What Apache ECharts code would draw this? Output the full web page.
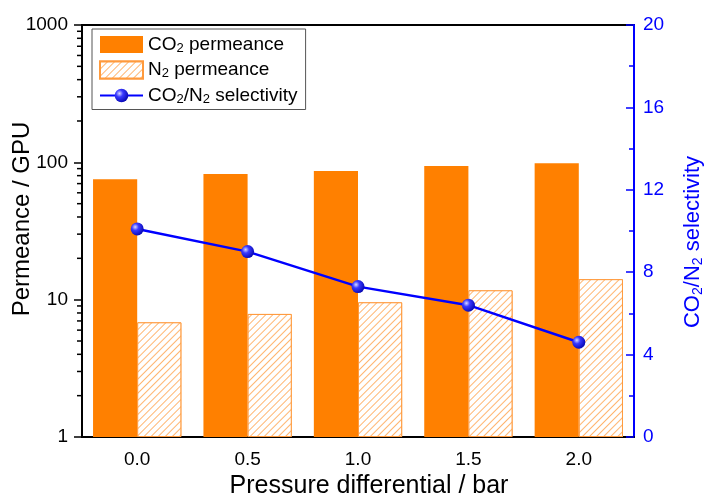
<!DOCTYPE html>
<html>
<head>
<meta charset="UTF-8">
<title>Permeance vs pressure differential</title>
<script src="https://cdn.jsdelivr.net/npm/echarts@6/dist/echarts.min.js"></script>
<style>
	html, body { margin: 0; padding: 0; background: #fff; }
	#main { width: 707px; height: 504px; }
</style>
</head>
<body>
<div id="main"></div>
<script>
// data
var categories = ['0.0', '0.5', '1.0', '1.5', '2.0'];
var co2Permeance = [75.3, 82.3, 86.6, 94.1, 98.5];
var n2Permeance = [6.84, 7.87, 9.57, 11.7, 14.1];
var selectivity = [10.1, 9.0, 7.3, 6.4, 4.6];
var logMinorTicks = [2, 3, 4, 5, 6, 7, 8, 9, 20, 30, 40, 50, 60, 70, 80, 90, 200, 300, 400, 500, 600, 700, 800, 900];

var FONT = 'Arial, "Liberation Sans", sans-serif';
var ORANGE = '#FF8000';
var BLUE = '#0000FF';

var legendText = {
	'CO2 permeance': '{n|CO}{s|2}{n| permeance}',
	'N2 permeance': '{n|N}{s|2}{n| permeance}',
	'CO2/N2 selectivity': '{n|CO}{s|2}{n|/N}{s|2}{n| selectivity}'
};

var chart = echarts.init(document.getElementById('main'));
chart.setOption({
	animation: false,
	textStyle: { fontFamily: FONT },
	grid: {
		left: 82, right: 73, top: 25, bottom: 67,
		outerBoundsMode: 'none',
		containLabel: false,
		show: true, borderColor: '#000', borderWidth: 2
	},
	legend: {
		orient: 'vertical',
		left: 92, top: 29,
		padding: [6, 8, 4, 7],
		itemGap: 6,
		itemWidth: 43, itemHeight: 17,
		borderColor: '#555', borderWidth: 1,
		data: [
			{ name: 'CO2 permeance', icon: 'rect' },
			{ name: 'N2 permeance', icon: 'rect' },
			{ name: 'CO2/N2 selectivity' }
		],
		formatter: function (name) { return legendText[name]; },
		textStyle: {
			color: '#000',
			rich: {
				n: { fontSize: 19, lineHeight: 20, fontFamily: FONT, color: '#000' },
				s: { fontSize: 13, lineHeight: 12, verticalAlign: 'bottom', fontFamily: FONT, color: '#000' }
			}
		}
	},
	xAxis: [{
		type: 'category',
		data: categories,
		name: 'Pressure differential / bar',
		nameLocation: 'middle',
		nameGap: 37,
		nameMoveOverlap: false,
		nameTextStyle: { fontSize: 25, color: '#000', fontFamily: FONT, padding: [0, 0, 0, 22] },
		axisLine: { lineStyle: { color: '#000', width: 2 } },
		axisTick: { alignWithLabel: true, length: 8, lineStyle: { color: '#000', width: 1.5 } },
		axisLabel: { fontSize: 19, color: '#000', margin: 13, fontFamily: FONT },
		splitLine: { show: false }
	}, {
		// boundary ticks between groups
		type: 'category',
		data: categories,
		position: 'bottom',
		axisLine: { show: false },
		axisTick: { length: 5, lineStyle: { color: '#000', width: 1.5 } },
		axisLabel: { show: false },
		splitLine: { show: false }
	}],
	yAxis: [{
		type: 'log',
		logBase: 10,
		min: 1, max: 1000,
		name: 'Permeance / GPU',
		nameLocation: 'middle',
		nameGap: 48,
		nameMoveOverlap: false,
		nameTextStyle: { fontSize: 24, color: '#000', fontFamily: FONT, padding: [0, 0, 0, 24] },
		axisLine: { show: true, lineStyle: { color: '#000', width: 2 } },
		axisTick: { show: true, length: 8, lineStyle: { color: '#000', width: 1.5 } },
		axisLabel: {
			fontSize: 19, color: '#000', margin: 14, fontFamily: FONT,
			formatter: function (v) { return String(Math.round(v)); }
		},
		splitLine: { show: false }
	}, {
		type: 'value',
		min: 0, max: 20, interval: 4,
		position: 'right',
		name: '{n|CO}{s|2}{n|/N}{s|2}{n| selectivity}',
		nameLocation: 'middle',
		nameGap: 47,
		nameMoveOverlap: false,
		nameTextStyle: {
			color: BLUE,
			padding: [0, 22, 0, 0],
			rich: {
				n: { fontSize: 22, lineHeight: 24, color: BLUE, fontFamily: FONT },
				s: { fontSize: 14, lineHeight: 14, verticalAlign: 'bottom', color: BLUE, fontFamily: FONT }
			}
		},
		axisLine: { show: true, lineStyle: { color: BLUE, width: 2 } },
		axisTick: { show: true, inside: true, length: 8, lineStyle: { color: BLUE, width: 1.5 } },
		minorTick: { show: true, splitNumber: 2, length: 5, lineStyle: { color: BLUE, width: 1.5 } },
		axisLabel: { fontSize: 19, color: BLUE, margin: 9, fontFamily: FONT },
		splitLine: { show: false }
	}],
	series: [{
		name: 'CO2 permeance',
		type: 'bar',
		data: co2Permeance,
		barGap: '0%',
		barCategoryGap: '20%',
		itemStyle: { color: ORANGE }
	}, {
		name: 'N2 permeance',
		type: 'bar',
		data: n2Permeance,
		itemStyle: {
			color: '#fff',
			borderColor: '#FF9A3C',
			borderWidth: 1,
			decal: {
				symbol: 'rect',
				symbolSize: 1,
				color: '#FFB570',
				backgroundColor: '#fff',
				dashArrayX: [1, 0],
				dashArrayY: [1, 4],
				rotation: -Math.PI / 4
			}
		}
	}, {
		name: 'CO2/N2 selectivity',
		type: 'line',
		yAxisIndex: 1,
		data: selectivity,
		symbol: 'circle',
		symbolSize: 13,
		z: 5,
		lineStyle: { color: BLUE, width: 2.5 },
		itemStyle: {
			color: {
				type: 'radial', x: 0.35, y: 0.35, r: 0.75,
				colorStops: [
					{ offset: 0, color: '#d8d8ff' },
					{ offset: 0.35, color: '#3a3aff' },
					{ offset: 1, color: '#0000a8' }
				]
			}
		}
	}, {
		// log minor ticks on the left axis, placed through the axis scale
		type: 'custom',
		silent: true,
		clip: false,
		data: logMinorTicks,
		renderItem: function (params, api) {
			var y = api.coord([0, api.value(0)])[1];
			var x = params.coordSys.x;
			return {
				type: 'line',
				shape: { x1: x - 5, y1: y, x2: x, y2: y },
				style: { stroke: '#000', lineWidth: 1.5 }
			};
		},
		encode: { y: 0 }
	}]
});
</script>
</body>
</html>
